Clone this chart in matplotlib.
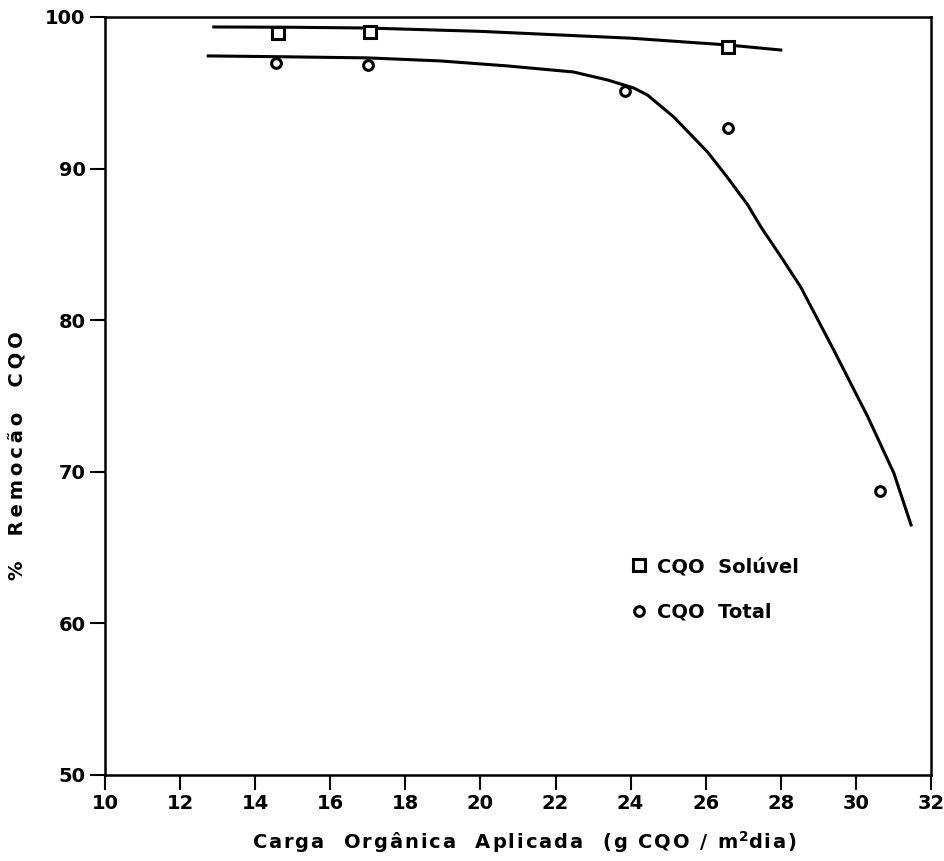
import matplotlib
matplotlib.use("Agg")
import matplotlib.pyplot as plt

# measured points
carga_sol = [14.6, 17.05, 26.6]
rem_sol = [98.95, 99.0, 98.0]
carga_tot = [14.55, 17.0, 23.85, 26.6, 30.65]
rem_tot = [96.95, 96.85, 95.1, 92.7, 68.7]

# fitted curves as drawn in the original figure
fit_sol_x = [12.9, 15.0, 17.0, 20.0, 24.0, 26.6, 28.0]
fit_sol_y = [99.34, 99.32, 99.27, 99.05, 98.6, 98.15, 97.82]
fit_tot_x = [12.75, 14.6, 17.0, 18.93, 20.72, 22.48, 23.39, 24.08, 24.45, 25.15,
             26.05, 26.59, 27.12, 27.47, 28.0, 28.53, 29.41, 30.32, 31.01, 31.47]
fit_tot_y = [97.43, 97.38, 97.3, 97.1, 96.77, 96.37, 95.84, 95.32, 94.85, 93.4,
             91.09, 89.38, 87.6, 86.15, 84.2, 82.19, 78.03, 73.61, 69.92, 66.49]


def spaced(s, gap):
    # the scanned labels are letter-spaced
    return gap.join(s)


plt.rcParams['font.family'] = ['DejaVu Sans']
plt.rcParams['font.weight'] = 'bold'

fig = plt.figure(figsize=(9.44, 8.61), dpi=100)
ax = fig.add_axes([0.1112, 0.0999, 0.8750, 0.8804])

ax.plot(fit_sol_x, fit_sol_y, color='black', lw=2.2, zorder=2, solid_joinstyle='round')
ax.plot(fit_tot_x, fit_tot_y, color='black', lw=2.2, zorder=2, solid_joinstyle='round')
ax.plot(carga_sol, rem_sol, ls='none', marker='s', ms=9, mfc='white', mec='black',
        mew=2.2, label='CQO  Solúvel', zorder=3)
ax.plot(carga_tot, rem_tot, ls='none', marker='o', ms=7, mfc='white', mec='black',
        mew=2.2, label='CQO  Total', zorder=3)

ax.set_xlim(10, 32)
ax.set_ylim(50, 100)
ax.set_xticks(range(10, 33, 2))
ax.set_yticks(range(50, 101, 10))
ax.tick_params(direction='out', length=11, width=1.5, labelsize=14, pad=3)
for s in ax.spines.values():
    s.set_linewidth(1.8)

xlab = (spaced('Carga  Orgânica  Aplicada  (g CQO / m', '\u200a')
        + '$^{\\mathbf{2}}$' + spaced('dia)', '\u200a'))
ax.set_xlabel(xlab, fontsize=14, fontweight='bold')
ax.xaxis.set_label_coords(0.508, -0.072)
ax.set_ylabel(spaced('%  Remocão  CQO', '\u2009'), fontsize=14, fontweight='bold')
ax.yaxis.set_label_coords(-0.0956, 0.421)

ax.legend(loc='upper left', bbox_to_anchor=(0.628, 0.300), frameon=False,
          handlelength=0.6, handletextpad=0.6, labelspacing=1.35, fontsize=14,
          borderpad=0)

fig.savefig('out.png', dpi=100)
